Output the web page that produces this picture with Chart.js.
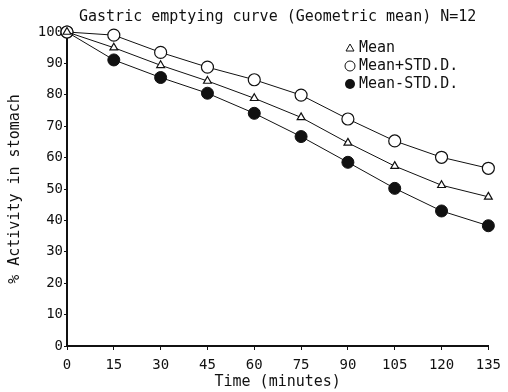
<!DOCTYPE html>
<html>
<head>
<meta charset="utf-8">
<script src="https://cdn.jsdelivr.net/npm/chart.js@4/dist/chart.umd.min.js"></script>
<style>
    html, body { margin: 0; padding: 0; background: #fff; }
    #wrap { width: 508px; height: 392px; }
</style>
</head>
<body>
<div id="wrap"><canvas id="chart"></canvas></div>
<script>
const times = [0, 15, 30, 45, 60, 75, 90, 105, 120, 135];
const meanValues = [100, 95, 89.4, 84.4, 78.9, 72.8, 64.7, 57.3, 51.2, 47.5];
const plusSdValues = [100, 99, 93.5, 88.8, 84.8, 79.9, 72.3, 65.3, 60.1, 56.6];
const minusSdValues = [100, 91.1, 85.5, 80.5, 74.1, 66.7, 58.5, 50.2, 43, 38.3];
const seriesNames = ['Mean', 'Mean+STD.D.', 'Mean-STD.D.'];

const mono = 'DejaVu Sans Mono';
const ink = '#111';

function toPoints(values) {
    return values.map((v, i) => ({ x: times[i], y: v }));
}

// draws the small legend block in the top right corner of the plot
const cornerLegend = {
    id: 'cornerLegend',
    afterDraw(chart) {
        const ctx = chart.ctx;
        const area = chart.chartArea;
        const x = area.left + 283;
        const y0 = area.top + 16;
        const gap = 18;
        ctx.save();
        ctx.strokeStyle = ink;
        ctx.fillStyle = ink;
        ctx.lineWidth = 1;
        ctx.font = `15px "${mono}"`;
        ctx.textBaseline = 'middle';
        seriesNames.forEach((name, i) => {
            const y = y0 + i * gap;
            ctx.beginPath();
            if (i === 0) {
                ctx.moveTo(x, y - 4);
                ctx.lineTo(x + 4, y + 3);
                ctx.lineTo(x - 4, y + 3);
                ctx.closePath();
                ctx.stroke();
            } else {
                ctx.arc(x, y, 5, 0, Math.PI * 2);
                if (i === 2) ctx.fill(); else ctx.stroke();
            }
            ctx.fillText(name, x + 9, y);
        });
        ctx.restore();
    }
};

new Chart(document.getElementById('chart'), {
    type: 'line',
    data: {
        datasets: [
            {
                label: seriesNames[0],
                data: toPoints(meanValues),
                borderColor: ink,
                borderWidth: 1,
                pointStyle: 'triangle',
                pointRadius: 4.5,
                pointBackgroundColor: '#fff',
                pointBorderColor: ink,
                pointBorderWidth: 1.2,
                clip: false,
                order: 0
            },
            {
                label: seriesNames[1],
                data: toPoints(plusSdValues),
                borderColor: ink,
                borderWidth: 1,
                pointStyle: 'circle',
                pointRadius: 6,
                pointBackgroundColor: '#fff',
                pointBorderColor: ink,
                pointBorderWidth: 1.2,
                clip: false,
                order: 1
            },
            {
                label: seriesNames[2],
                data: toPoints(minusSdValues),
                borderColor: ink,
                borderWidth: 1,
                pointStyle: 'circle',
                pointRadius: 6,
                pointBackgroundColor: ink,
                pointBorderColor: ink,
                clip: false,
                order: 2
            }
        ]
    },
    options: {
        responsive: true,
        maintainAspectRatio: false,
        animation: false,
        layout: { padding: { left: 0, right: 19, top: 0, bottom: 0 } },
        plugins: {
            legend: { display: false },
            tooltip: { enabled: false },
            title: {
                display: true,
                fullSize: false,
                text: 'Gastric emptying curve (Geometric mean) N=12',
                color: ink,
                font: { family: mono, size: 15, weight: 'normal' },
                padding: { top: 8, bottom: 6 }
            }
        },
        scales: {
            x: {
                type: 'linear',
                min: 0,
                max: 135,
                afterFit(scale) { scale.height = 46; },
                ticks: {
                    stepSize: 15,
                    color: ink,
                    padding: 7,
                    font: { family: mono, size: 14 }
                },
                grid: { drawOnChartArea: false, drawTicks: true, tickLength: 4, color: ink },
                border: { display: true, color: ink, width: 2 },
                title: {
                    display: true,
                    text: 'Time (minutes)',
                    color: ink,
                    font: { family: mono, size: 15 },
                    padding: { top: 0, bottom: 1 }
                }
            },
            y: {
                min: 0,
                max: 100,
                afterFit(scale) { scale.width = 67; },
                ticks: {
                    stepSize: 10,
                    color: ink,
                    padding: 1,
                    font: { family: mono, size: 14 }
                },
                grid: { drawOnChartArea: false, drawTicks: true, tickLength: 3, color: ink },
                border: { display: true, color: ink, width: 2 },
                title: {
                    display: true,
                    text: '% Activity in stomach',
                    color: ink,
                    font: { family: mono, size: 15 },
                    padding: { top: 6, bottom: 0 }
                }
            }
        }
    },
    plugins: [cornerLegend]
});
</script>
</body>
</html>
